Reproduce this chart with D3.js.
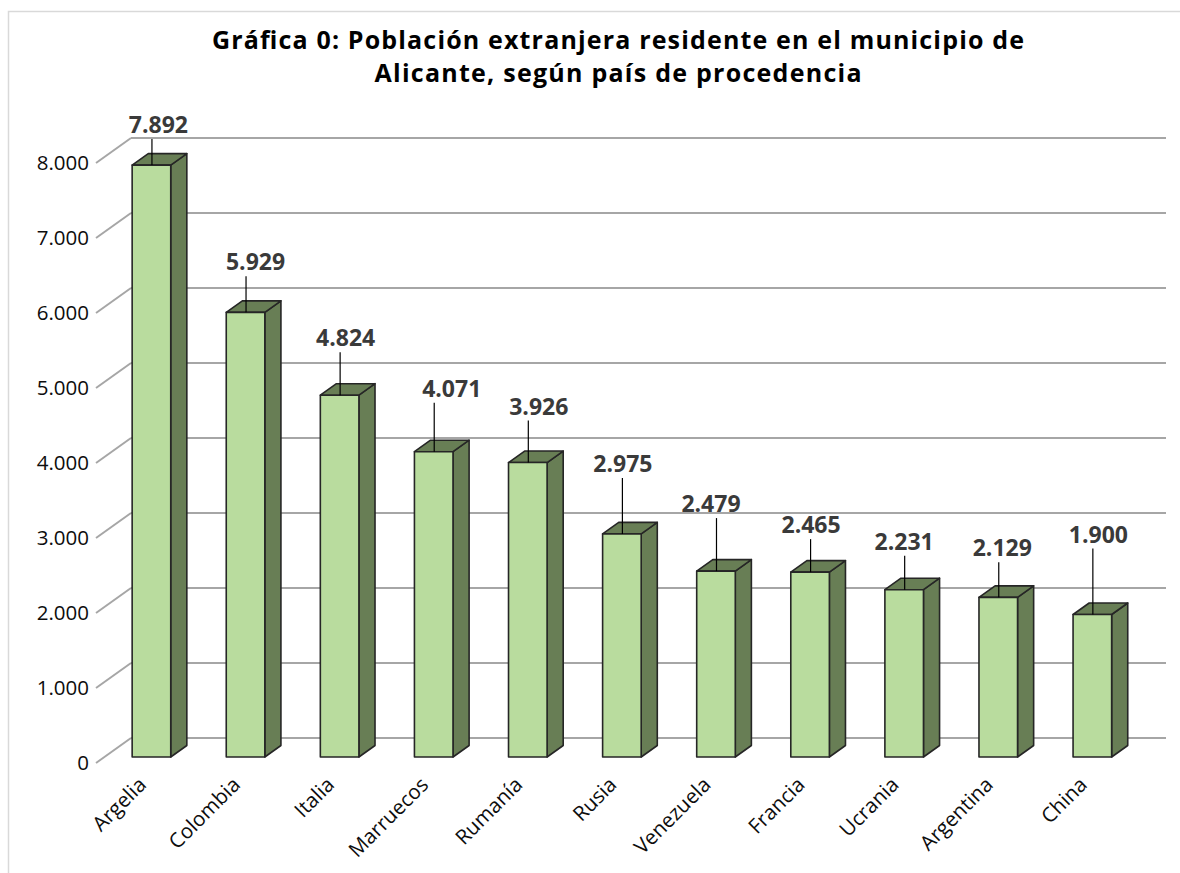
<!DOCTYPE html>
<html>
<head>
<meta charset="utf-8">
<script src="https://cdn.jsdelivr.net/npm/d3@7"></script>
<style>
  body { margin: 0; background: #fff; }
  text { font-family: "Open Sans", sans-serif; }
</style>
</head>
<body>
<svg id="chart" width="1180" height="873"></svg>
<script>
// data
var countries = ["Argelia", "Colombia", "Italia", "Marruecos", "Rumanía", "Rusia",
                 "Venezuela", "Francia", "Ucrania", "Argentina", "China"];
var residents = [7892, 5929, 4824, 4071, 3926, 2975, 2479, 2465, 2231, 2129, 1900];
var yTicks = [0, 1000, 2000, 3000, 4000, 5000, 6000, 7000, 8000];
var titleLines = ["Gráfica 0: Población extranjera residente en el municipio de",
                  "Alicante, según país de procedencia"];

// the data labels were dragged by hand in the original: [dx, lift above bar top]
var labelNudge = [[7, 32], [10, 42], [6, 49], [18, 55], [11, 48], [1, 62],
                  [-5, 59], [1, 39], [0, 40], [4, 41], [6, 72]];
// widths the two title lines take in the original
var titleWidths = [812, 487];

var svg = d3.select("#chart");

// fake 3d: front plane + a depth vector going up/right
var depth = {dx: 35, dy: -25};
var zFront = 0.24, zBack = 0.70;

var x = d3.scaleBand().domain(countries).range([96, 1131]).padding(0);
var y = d3.scaleLinear().domain([0, 8000]).range([763, 163]);
var barW = x.step() * 0.41;

function proj(px, v, z) {
  return [px + z * depth.dx, y(v) + z * depth.dy];
}

var fmt = d3.formatLocale({decimal: ",", thousands: ".", grouping: [3], currency: ["", "€"]}).format(",d");

// chart frame (cut off on the right and bottom)
svg.append("rect")
    .attr("x", 8.5).attr("y", 11.5)
    .attr("width", 1200).attr("height", 900)
    .attr("fill", "none")
    .attr("stroke", "#d9d9d9")
    .attr("stroke-width", 1.5);

// title, two lines
svg.append("g").attr("class", "title")
  .selectAll("text")
    .data(titleLines)
  .enter().append("text")
    .attr("x", 618)
    .attr("y", function(d, i) { return 49 + i * 33; })
    .attr("text-anchor", "middle")
    .attr("font-weight", "bold")
    .attr("font-size", 25)
    .attr("textLength", function(d, i) { return titleWidths[i]; })
    .attr("lengthAdjust", "spacing")
    .attr("fill", "#000")
    .text(function(d) { return d; });

// gridlines: back wall + left side wall
var grid = svg.append("g").attr("class", "grid")
    .attr("stroke", "#a6a6a6").attr("stroke-width", 2).attr("fill", "none");
var x0 = x.range()[0], x1 = x.range()[1];
grid.selectAll("path.back")
    .data(yTicks)
  .enter().append("path")
    .attr("class", "back")
    .attr("d", function(t) {
      var a = proj(x0, t, 1), b = proj(x1, t, 1);
      return "M" + a + "L" + b;
    });
grid.selectAll("path.side")
    .data(yTicks)
  .enter().append("path")
    .attr("class", "side")
    .attr("d", function(t) {
      var a = proj(x0, t, 0), b = proj(x0, t, 1);
      return "M" + a + "L" + b;
    });

// y tick labels
var yAxis = d3.axisLeft(y).tickValues(yTicks).tickSize(0).tickPadding(0).tickFormat(fmt);
var gy = svg.append("g").attr("transform", "translate(89,0)").call(yAxis);
gy.select(".domain").remove();
gy.selectAll("text")
    .attr("font-family", "Open Sans, sans-serif")
    .attr("font-size", 20.5)
    .attr("fill", "#0d0d0d");

// bars
var bars = svg.append("g").attr("class", "bars")
    .attr("stroke", "#262626").attr("stroke-width", 1.6).attr("stroke-linejoin", "round");

bars.selectAll("g")
    .data(countries)
  .enter().append("g")
    .each(function(c, i) {
      var g = d3.select(this);
      var v = residents[i];
      var cx = x(c) + x.step() / 2;
      var L = cx - barW / 2, R = cx + barW / 2;
      var fl = proj(L, v, zFront), fr = proj(R, v, zFront);
      var bl = proj(L, 0, zFront), br = proj(R, 0, zFront);
      var tl = proj(L, v, zBack), tr = proj(R, v, zBack);
      var sb = proj(R, 0, zBack);
      g.append("path")
          .attr("fill", "#687e55")
          .attr("d", "M" + fr + "L" + tr + "L" + sb + "L" + br + "Z");
      g.append("path")
          .attr("fill", "#687e55")
          .attr("d", "M" + fl + "L" + tl + "L" + tr + "L" + fr + "Z");
      g.append("path")
          .attr("fill", "#b9dc9e")
          .attr("d", "M" + fl + "L" + fr + "L" + br + "L" + bl + "Z");
    });

// data labels with leader lines
var labels = svg.append("g").attr("class", "labels");
labels.selectAll("g")
    .data(countries)
  .enter().append("g")
    .each(function(c, i) {
      var g = d3.select(this);
      var v = residents[i];
      var cx = x(c) + x.step() / 2;
      var top = proj(cx, v, zFront);
      var base = top[1] - labelNudge[i][1];
      g.append("line")
          .attr("x1", top[0] + 0.5).attr("x2", top[0] + 0.5)
          .attr("y1", base + 6).attr("y2", top[1])
          .attr("stroke", "#000").attr("stroke-width", 1.2);
      g.append("text")
          .attr("x", top[0] + labelNudge[i][0])
          .attr("y", base)
          .attr("text-anchor", "middle")
          .attr("font-weight", "bold")
          .attr("font-size", 23)
          .attr("fill", "#3a3a3a")
          .text(fmt(v));
    });

// category labels, rotated
svg.append("g").attr("class", "cats")
  .selectAll("text")
    .data(countries)
  .enter().append("text")
    .attr("transform", function(c) {
      var p = proj(x(c) + x.step() / 2, 0, zFront);
      return "translate(" + (p[0] - 4) + "," + 786 + ") rotate(-45)";
    })
    .attr("text-anchor", "end")
    .attr("font-size", 20.5)
    .attr("fill", "#0d0d0d")
    .text(function(c) { return c; });
</script>
</body>
</html>
